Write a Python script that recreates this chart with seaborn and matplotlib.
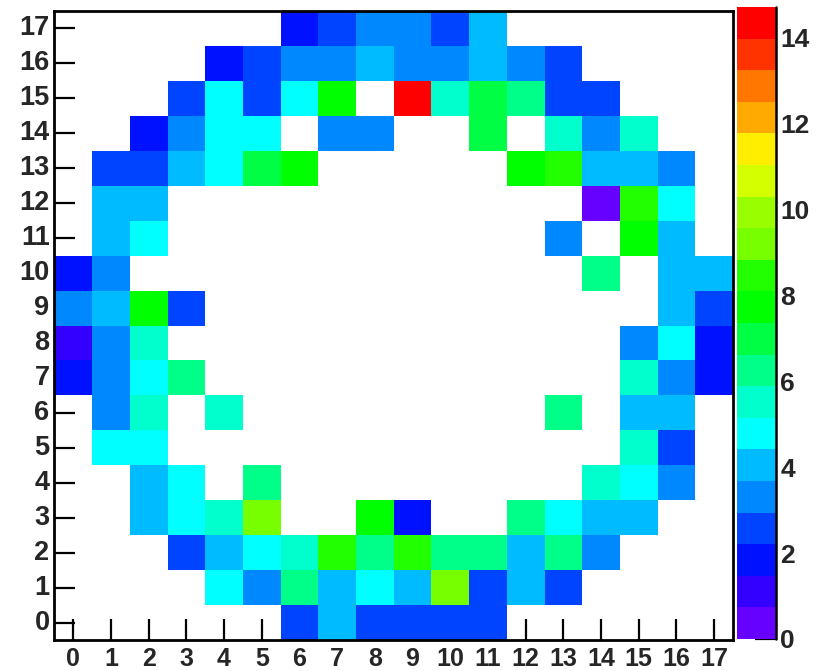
import numpy as np
import pandas as pd
import matplotlib
matplotlib.use("Agg")
import matplotlib.pyplot as plt
from matplotlib.colors import ListedColormap
import seaborn as sns

# ---- data (estimated cell contents; None = empty bin) ----
x_bins = list(range(18))
y_bins = list(range(18))
z_max = 14.7

N = None
row17 = [N, N, N, N, N, N, 1.84, 2.57, 3.30, 3.30, 2.57, 4.04, N, N, N, N, N, N]
row16 = [N, N, N, N, 1.84, 2.57, 3.30, 3.30, 4.04, 3.30, 3.30, 4.04, 3.30, 2.57, N, N, N, N]
row15 = [N, N, N, 2.57, 4.77, 2.57, 4.77, 7.71, N, 14.3, 5.51, 6.97, 6.24, 2.57, 2.57, N, N, N]
row14 = [N, N, 1.84, 3.30, 4.77, 4.77, N, 3.30, 3.30, N, N, 6.97, N, 5.51, 3.30, 5.51, N, N]
row13 = [N, 2.57, 2.57, 4.04, 4.77, 6.97, 7.71, N, N, N, N, N, 7.71, 8.44, 4.04, 4.04, 3.30, N]
row12 = [N, 4.04, 4.04, N, N, N, N, N, N, N, N, N, N, N, 0.37, 8.44, 4.77, N]
row11 = [N, 4.04, 4.77, N, N, N, N, N, N, N, N, N, N, 3.30, N, 7.71, 4.04, N]
row10 = [1.84, 3.30, N, N, N, N, N, N, N, N, N, N, N, N, 6.24, N, 4.04, 4.04]
row9 = [3.30, 4.04, 7.71, 2.57, N, N, N, N, N, N, N, N, N, N, N, N, 4.04, 2.57]
row8 = [1.10, 3.30, 5.51, N, N, N, N, N, N, N, N, N, N, N, N, 3.30, 4.77, 1.84]
row7 = [1.84, 3.30, 4.77, 6.24, N, N, N, N, N, N, N, N, N, N, N, 5.51, 3.30, 1.84]
row6 = [N, 3.30, 5.51, N, 5.51, N, N, N, N, N, N, N, N, 6.24, N, 4.04, 4.04, N]
row5 = [N, 4.77, 4.77, N, N, N, N, N, N, N, N, N, N, N, N, 5.51, 2.57, N]
row4 = [N, N, 4.04, 4.77, N, 6.24, N, N, N, N, N, N, N, N, 5.51, 4.77, 3.30, N]
row3 = [N, N, 4.04, 4.77, 5.51, 9.17, N, N, 7.71, 1.84, N, N, 6.24, 4.77, 4.04, 4.04, N, N]
row2 = [N, N, N, 2.57, 4.04, 4.77, 5.51, 8.44, 6.24, 8.44, 6.24, 6.24, 4.04, 6.24, 3.30, N, N, N]
row1 = [N, N, N, N, 4.77, 3.30, 6.24, 4.04, 4.77, 4.04, 9.17, 2.57, 4.04, 2.57, N, N, N, N]
row0 = [N, N, N, N, N, N, 2.57, 4.04, 2.57, 2.57, 2.57, 2.57, N, N, N, N, N, N]

rows = [row0, row1, row2, row3, row4, row5, row6, row7, row8,
        row9, row10, row11, row12, row13, row14, row15, row16, row17]
data = pd.DataFrame([[np.nan if v is None else v for v in r] for r in rows],
                    index=y_bins, columns=x_bins, dtype=float)

cbar_ticks = [0, 2, 4, 6, 8, 10, 12, 14]

# ---- style ----
palette = ["#6600ff", "#3300ff", "#0011ff", "#0044ff", "#0088ff", "#00bbff",
           "#00ffff", "#00ffcc", "#00ff88", "#00ff44", "#00ff00", "#22ff00",
           "#77ff00", "#99ff00", "#d4ff00", "#ffee00", "#ffaa00", "#ff7700",
           "#ff3300", "#ff0000"]
cmap = ListedColormap(palette)

sns.set_style("white")
plt.rcParams["font.family"] = ["Liberation Sans", "DejaVu Sans"]
plt.rcParams["font.weight"] = "bold"

W, H = 823, 671
fig = plt.figure(figsize=(W / 100, H / 100), dpi=100)
ax = fig.add_axes([54.4 / W, (H - 640.2) / H, (733 - 54.4) / W, (640.2 - 10.8) / H])
cax = fig.add_axes([737 / W, (H - 639) / H, (776 - 737) / W, (639 - 7) / H])

sns.heatmap(data, ax=ax, cmap=cmap, vmin=0, vmax=z_max, cbar=True, cbar_ax=cax,
            linewidths=0, square=False)
ax.invert_yaxis()
ax.set_xlim(0, len(x_bins))
ax.set_ylim(0, len(y_bins))

for s in ax.spines.values():
    s.set_visible(True)
    s.set_linewidth(2)
    s.set_color("black")

ax.set_xticks(np.arange(len(x_bins)) + 0.5)
ax.set_xticklabels([str(v) for v in x_bins], rotation=0, fontsize=18, fontweight="bold")
ax.set_yticks(np.arange(len(y_bins)) + 0.5)
ax.set_yticklabels([str(v) for v in y_bins], rotation=0, fontsize=19.5, fontweight="bold")
ax.tick_params(axis="both", direction="in", length=14.8, width=1.6, color="black",
               bottom=True, left=True, top=False, right=False)
ax.tick_params(axis="x", pad=5)
ax.tick_params(axis="y", pad=3.5)
ax.set_xlabel("")
ax.set_ylabel("")

cbar = ax.collections[0].colorbar
cbar.outline.set_visible(False)
cbar.set_ticks(cbar_ticks)
cbar.set_ticklabels([str(t) for t in cbar_ticks])
cax.tick_params(axis="y", direction="in", length=14.8, width=1.6, color="black",
                labelsize=19, pad=3, right=True, left=False)
for lab in cax.get_yticklabels():
    lab.set_fontweight("bold")
cax.plot([1, 1], [0, 1], transform=cax.transAxes, color="black", lw=1.8, clip_on=False)

fig.savefig("out.png", dpi=100)
